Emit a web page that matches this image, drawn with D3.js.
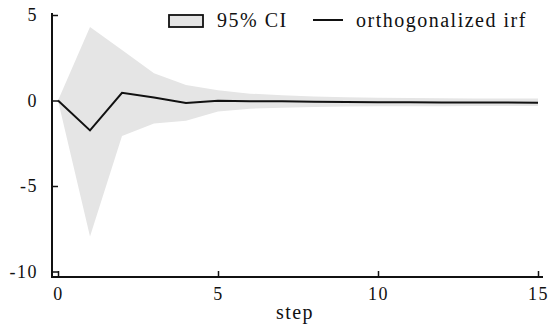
<!DOCTYPE html>
<html>
<head>
<meta charset="utf-8">
<script src="https://cdn.jsdelivr.net/npm/d3@7"></script>
<style>
  body { margin: 0; background: #fff; }
  text { font-family: "Liberation Serif", "Times New Roman", serif; fill: #111; }
</style>
</head>
<body>
<div id="chart"></div>
<script>
// impulse response
const steps = d3.range(0, 16);
const irf   = [0, -1.75, 0.45, 0.17, -0.15, -0.02, -0.04, -0.05, -0.07, -0.09, -0.1, -0.1, -0.11, -0.12, -0.12, -0.13];
const upper = [0, 4.3, 2.95, 1.6, 0.9, 0.6, 0.4, 0.3, 0.23, 0.19, 0.16, 0.14, 0.13, 0.12, 0.12, 0.12];
const lower = [0, -7.95, -2.08, -1.34, -1.18, -0.65, -0.48, -0.42, -0.38, -0.35, -0.34, -0.33, -0.33, -0.32, -0.32, -0.32];
const xTicks = [0, 5, 10, 15];
const yTicks = [-10, -5, 0, 5];

const W = 556, H = 336;

const svg = d3.select("#chart")
    .append("svg")
    .attr("width", W)
    .attr("height", H);

const x = d3.scaleLinear().domain([0, 15]).range([58, 538]);
const y = d3.scaleLinear().domain([-10, 5]).range([271.5, 15]);

const data = steps.map((s, i) => ({step: s, irf: irf[i], lo: lower[i], hi: upper[i]}));

// confidence band
svg.append("path")
    .datum(data)
    .attr("fill", "#e5e5e5")
    .attr("d", d3.area()
        .x(d => x(d.step))
        .y0(d => y(d.lo))
        .y1(d => y(d.hi)));

// irf line
svg.append("path")
    .datum(data)
    .attr("fill", "none")
    .attr("stroke", "#111")
    .attr("stroke-width", 2)
    .attr("d", d3.line()
        .x(d => x(d.step))
        .y(d => y(d.irf)));

// axes (ticks point inward), plain hyphen for negatives
const fmt = d => String(d);
const gy = svg.append("g")
    .attr("transform", "translate(52,0)")
    .call(d3.axisLeft(y).tickValues(yTicks).tickFormat(fmt).tickSizeInner(-6).tickSizeOuter(0).tickPadding(14));
const gx = svg.append("g")
    .attr("transform", "translate(0,277)")
    .call(d3.axisBottom(x).tickValues(xTicks).tickFormat(fmt).tickSizeInner(-6).tickSizeOuter(0).tickPadding(14));

[gx, gy].forEach(g => {
    g.select(".domain").remove();
    g.selectAll(".tick line").attr("stroke", "#111").attr("stroke-width", 1.5);
    g.selectAll(".tick text")
        .style("font-size", "18px")
        .style("font-family", "'Liberation Serif', serif")
        .style("letter-spacing", "1.5px")
        .attr("fill", "#111");
});
gx.selectAll(".tick text").attr("y", 23).attr("dy", 0);

svg.append("line")
    .attr("x1", 52).attr("x2", 52)
    .attr("y1", 13).attr("y2", 278)
    .attr("stroke", "#111").attr("stroke-width", 2);
svg.append("line")
    .attr("x1", 51).attr("x2", 543)
    .attr("y1", 277).attr("y2", 277)
    .attr("stroke", "#111").attr("stroke-width", 2);

// axis title
svg.append("text")
    .attr("x", 295)
    .attr("y", 319)
    .attr("text-anchor", "middle")
    .style("font-size", "20px")
    .style("letter-spacing", "1.5px")
    .text("step");

// legend
const legend = svg.append("g");
legend.append("rect")
    .attr("x", 169).attr("y", 15)
    .attr("width", 34).attr("height", 12)
    .attr("fill", "#e5e5e5")
    .attr("stroke", "#111").attr("stroke-width", 1.8);
legend.append("text")
    .attr("x", 217).attr("y", 27)
    .style("font-size", "20px")
    .style("letter-spacing", "1.5px")
    .text("95% CI");
legend.append("line")
    .attr("x1", 313).attr("x2", 343)
    .attr("y1", 20).attr("y2", 20)
    .attr("stroke", "#111").attr("stroke-width", 2);
legend.append("text")
    .attr("x", 356).attr("y", 27)
    .style("font-size", "20px")
    .style("letter-spacing", "1.5px")
    .text("orthogonalized irf");
</script>
</body>
</html>
